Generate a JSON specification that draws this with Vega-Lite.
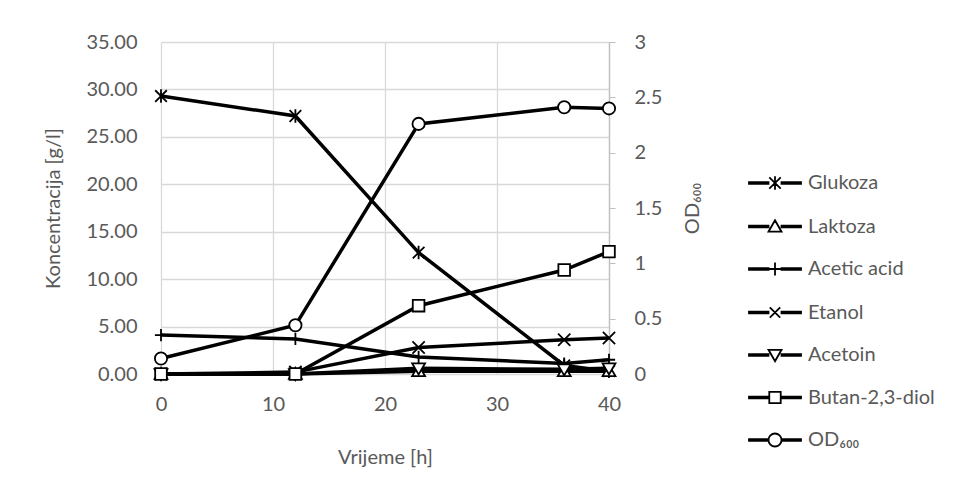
{
  "$schema": "https://vega.github.io/schema/vega-lite/v6.json",
  "width": 448,
  "height": 332,
  "autosize": {"type": "none"},
  "padding": {"left": 161, "top": 42, "right": 347, "bottom": 111},
  "background": "white",
  "config": {
    "font": "Lato",
    "view": {"stroke": null},
    "axis": {
      "labelFont": "Lato", "labelFontSize": 20, "labelColor": "#595959", "labelFlush": false,
      "titleFont": "Lato", "titleFontSize": 20, "titleColor": "#595959", "titleFontWeight": "normal",
      "gridColor": "#d9d9d9", "gridWidth": 1.3
    },
    "legend": {"labelFont": "Lato", "labelFontSize": 20, "labelColor": "#595959"}
  },
  "data": {
    "values": [
      {"t": 0, "series": "Glukoza", "v": 29.3},
      {"t": 12, "series": "Glukoza", "v": 27.2},
      {"t": 23, "series": "Glukoza", "v": 12.8},
      {"t": 36, "series": "Glukoza", "v": 0.9},
      {"t": 40, "series": "Glukoza", "v": 0.3},
      {"t": 0, "series": "Laktoza", "v": 0.0},
      {"t": 12, "series": "Laktoza", "v": 0.0},
      {"t": 23, "series": "Laktoza", "v": 0.3},
      {"t": 36, "series": "Laktoza", "v": 0.3},
      {"t": 40, "series": "Laktoza", "v": 0.3},
      {"t": 0, "series": "Acetic acid", "v": 4.1},
      {"t": 12, "series": "Acetic acid", "v": 3.7},
      {"t": 23, "series": "Acetic acid", "v": 1.8},
      {"t": 36, "series": "Acetic acid", "v": 1.1},
      {"t": 40, "series": "Acetic acid", "v": 1.5},
      {"t": 0, "series": "Etanol", "v": 0.0},
      {"t": 12, "series": "Etanol", "v": 0.2},
      {"t": 23, "series": "Etanol", "v": 2.8},
      {"t": 36, "series": "Etanol", "v": 3.6},
      {"t": 40, "series": "Etanol", "v": 3.8},
      {"t": 0, "series": "Acetoin", "v": 0.0},
      {"t": 12, "series": "Acetoin", "v": 0.0},
      {"t": 23, "series": "Acetoin", "v": 0.6},
      {"t": 36, "series": "Acetoin", "v": 0.5},
      {"t": 40, "series": "Acetoin", "v": 0.6},
      {"t": 0, "series": "Butan-2,3-diol", "v": 0.0},
      {"t": 12, "series": "Butan-2,3-diol", "v": 0.0},
      {"t": 23, "series": "Butan-2,3-diol", "v": 7.2},
      {"t": 36, "series": "Butan-2,3-diol", "v": 10.96},
      {"t": 40, "series": "Butan-2,3-diol", "v": 12.9},
      {"t": 0, "series": "OD₆₀₀", "v": 0.14},
      {"t": 12, "series": "OD₆₀₀", "v": 0.44},
      {"t": 23, "series": "OD₆₀₀", "v": 2.26},
      {"t": 36, "series": "OD₆₀₀", "v": 2.41},
      {"t": 40, "series": "OD₆₀₀", "v": 2.4}
    ]
  },
  "layer": [
    {
      "transform": [{"filter": "datum.series !== 'OD₆₀₀'"}],
      "encoding": {
        "x": {
          "field": "t", "type": "quantitative",
          "scale": {"domain": [0, 40], "nice": false},
          "axis": {"values": [0, 10, 20, 30, 40], "title": "Vrijeme [h]", "grid": true, "ticks": false, "domain": false, "labelPadding": 20, "titlePadding": 33}
        },
        "y": {
          "field": "v", "type": "quantitative",
          "scale": {"domain": [0, 35], "nice": false},
          "axis": {"values": [0, 5, 10, 15, 20, 25, 30, 35], "format": ".2f", "title": "Koncentracija [g/l]", "grid": true, "ticks": false, "domain": false, "labelPadding": 24, "titlePadding": 22}
        }
      },
      "layer": [
        {
          "mark": {"type": "line", "color": "black", "strokeWidth": 3.5},
          "encoding": {"detail": {"field": "series"}}
        },
        {
          "mark": {"type": "point", "filled": true, "fill": "white", "stroke": "black", "strokeWidth": 1.8, "size": 150, "opacity": 1},
          "encoding": {
            "shape": {
              "field": "series", "type": "nominal",
              "scale": {
                "domain": ["Glukoza", "Laktoza", "Acetic acid", "Etanol", "Acetoin", "Butan-2,3-diol", "OD₆₀₀"],
                "range": [
                  "M-0.95,-0.95L0.95,0.95M-0.95,0.95L0.95,-0.95M0,-1.1V1.1",
                  "M0,-1L1.05,0.8H-1.05Z",
                  "M-1,0H1M0,-1V1",
                  "M-1,-1L1,1M-1,1L1,-1",
                  "M0,1L1.05,-0.8H-1.05Z",
                  "M-0.95,-0.95H0.95V0.95H-0.95Z",
                  "circle"
                ]
              },
              "legend": null
            }
          }
        }
      ]
    },
    {
      "transform": [{"filter": "datum.series === 'OD₆₀₀'"}],
      "encoding": {
        "x": {"field": "t", "type": "quantitative", "scale": {"domain": [0, 40], "nice": false}},
        "y": {
          "field": "v", "type": "quantitative",
          "scale": {"domain": [0, 3], "nice": false},
          "axis": {"orient": "right", "values": [0, 0.5, 1, 1.5, 2, 2.5, 3], "format": "~g", "title": "OD₆₀₀", "titleAngle": -90, "grid": false, "ticks": true, "tickSize": 6, "tickColor": "#bfbfbf", "domain": true, "domainColor": "#bfbfbf", "domainWidth": 1.3, "labelPadding": 19, "titlePadding": 41}
        }
      },
      "layer": [
        {"mark": {"type": "line", "color": "black", "strokeWidth": 3.5}, "encoding": {}},
        {"mark": {"type": "point", "shape": "circle", "filled": true, "fill": "white", "stroke": "black", "strokeWidth": 1.8, "size": 150, "opacity": 1}, "encoding": {}}
      ]
    },
    {
      "mark": {"type": "point", "filled": true, "fill": "white", "stroke": "black", "strokeWidth": 1.8, "opacity": 1, "clip": true},
      "encoding": {
        "x": {"field": "t", "type": "quantitative", "scale": {"domain": [0, 40], "nice": false}},
        "y": {"field": "v", "type": "quantitative", "scale": {"domain": [100, 135], "nice": false}, "axis": null},
        "shape": {
          "field": "series", "type": "nominal",
          "scale": {
            "domain": ["Glukoza", "Laktoza", "Acetic acid", "Etanol", "Acetoin", "Butan-2,3-diol", "OD₆₀₀"],
            "range": [
              "M-1,-0.033H-0.25V0.033H-1ZM0.25,-0.033H1V0.033H0.25ZM-0.22,-0.22L0.22,0.22M-0.22,0.22L0.22,-0.22M0,-0.26V0.26",
              "M-1,-0.033H-0.25V0.033H-1ZM0.25,-0.033H1V0.033H0.25ZM0,-0.24L0.25,0.2H-0.25Z",
              "M-1,-0.033H-0.25V0.033H-1ZM0.25,-0.033H1V0.033H0.25ZM-0.25,0H0.25M0,-0.25V0.25",
              "M-1,-0.033H-0.25V0.033H-1ZM0.25,-0.033H1V0.033H0.25ZM-0.2,-0.2L0.2,0.2M-0.2,0.2L0.2,-0.2",
              "M-1,-0.033H-0.25V0.033H-1ZM0.25,-0.033H1V0.033H0.25ZM0,0.24L0.25,-0.2H-0.25Z",
              "M-1,-0.033H-0.25V0.033H-1ZM0.25,-0.033H1V0.033H0.25ZM-0.22,-0.22H0.22V0.22H-0.22Z",
              "M-1,-0.033H-0.25V0.033H-1ZM0.25,-0.033H1V0.033H0.25ZM-0.25,0A0.25,0.25,0,1,1,0.25,0A0.25,0.25,0,1,1,-0.25,0Z"
            ]
          },
          "legend": {
            "title": null,
            "orient": "none",
            "legendX": 587,
            "legendY": 114,
            "padding": 0,
            "symbolSize": 2704,
            "symbolStrokeWidth": 1.8,
            "labelOffset": 6,
            "rowPadding": 5.5
          }
        }
      }
    }
  ],
  "resolve": {"scale": {"y": "independent", "shape": "independent"}}
}
